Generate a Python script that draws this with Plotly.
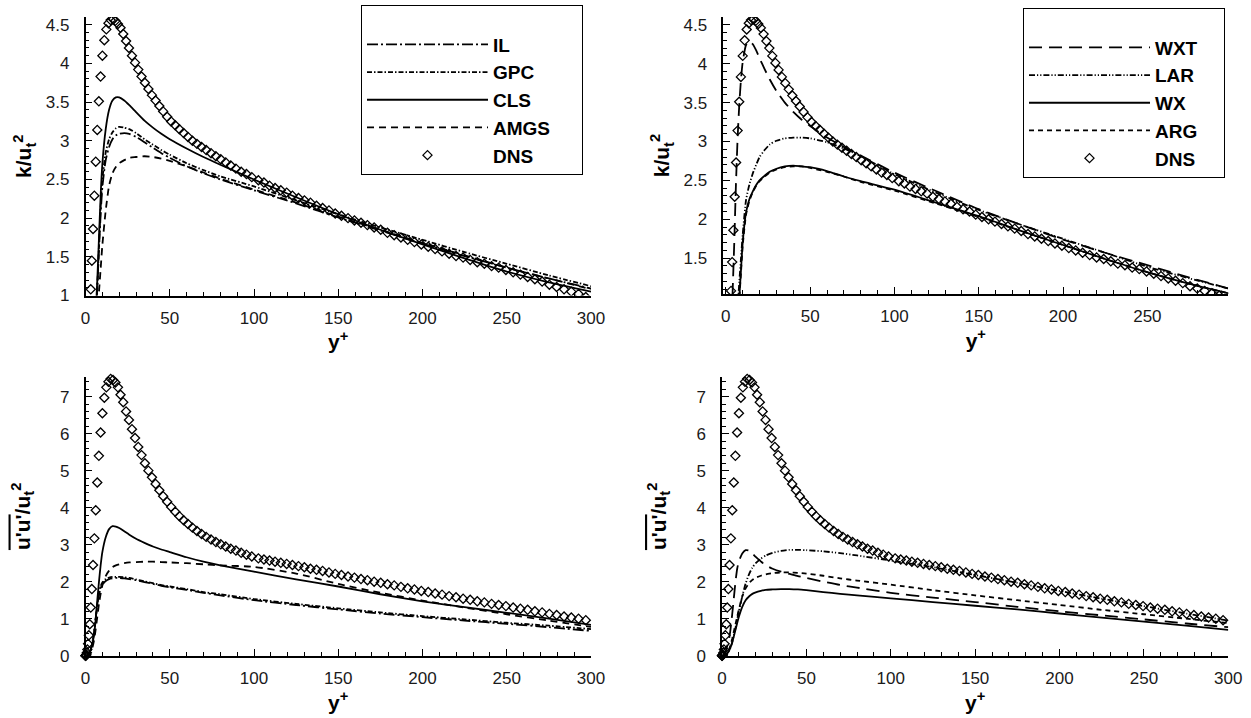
import plotly.graph_objects as go

# ---------------- data ----------------
X_MOD = [0, 1, 2, 3, 4, 5, 6, 7, 8, 9, 10, 12, 14, 16, 18, 20, 23, 26, 30, 35, 40, 45, 50,
         60, 70, 80, 100, 125, 150, 175, 200, 225, 250, 275, 300]

# top-left (k)
K_IL = [0, 0.01, 0.05, 0.12, 0.25, 0.45, 0.75, 1.1, 1.6, 2.05, 2.4, 2.75, 2.92, 3.02, 3.07, 3.09,
        3.10, 3.09, 3.05, 2.98, 2.91, 2.84, 2.78, 2.67, 2.58, 2.50, 2.36, 2.19, 2.01, 1.84, 1.67,
        1.51, 1.36, 1.22, 1.09]
K_GPC = [0, 0.01, 0.05, 0.12, 0.25, 0.45, 0.75, 1.1, 1.65, 2.15, 2.5, 2.85, 3.02, 3.11, 3.16, 3.18,
         3.17, 3.15, 3.10, 3.02, 2.95, 2.88, 2.82, 2.71, 2.62, 2.54, 2.41, 2.23, 2.05, 1.88, 1.72,
         1.56, 1.41, 1.26, 1.12]
K_CLS = [0, 0.01, 0.05, 0.12, 0.25, 0.45, 0.75, 1.2, 1.75, 2.3, 2.7, 3.15, 3.4, 3.52, 3.56, 3.56,
         3.52, 3.46, 3.37, 3.26, 3.17, 3.09, 3.02, 2.90, 2.79, 2.69, 2.50, 2.27, 2.05, 1.85, 1.66,
         1.48, 1.31, 1.17, 1.05]
K_AMGS = [0, 0.01, 0.04, 0.1, 0.2, 0.35, 0.55, 0.8, 1.05, 1.35, 1.65, 2.1, 2.42, 2.58, 2.66, 2.71,
          2.75, 2.78, 2.79, 2.80, 2.79, 2.77, 2.74, 2.67, 2.59, 2.51, 2.37, 2.20, 2.02, 1.85, 1.68,
          1.52, 1.36, 1.22, 1.08]

# top-right (k)
K_WXT = [0, 0.02, 0.12, 0.5, 1.05, 1.7, 2.45, 3.05, 3.48, 3.8, 4.02, 4.24, 4.29, 4.25, 4.17, 4.07,
         3.93, 3.80, 3.65, 3.50, 3.38, 3.28, 3.20, 3.05, 2.93, 2.82, 2.60, 2.36, 2.13, 1.93, 1.74,
         1.57, 1.41, 1.25, 1.10]
K_LAR = [0, 0.01, 0.04, 0.1, 0.18, 0.28, 0.5, 0.85, 1.2, 1.5, 1.8, 2.25, 2.45, 2.59, 2.70, 2.80,
         2.89, 2.96, 3.01, 3.04, 3.05, 3.05, 3.04, 2.99, 2.91, 2.81, 2.58, 2.34, 2.12, 1.93, 1.75,
         1.57, 1.39, 1.24, 1.10]
K_WX = [0, 0.01, 0.04, 0.1, 0.18, 0.28, 0.4, 0.7, 1.0, 1.35, 1.7, 2.09, 2.26, 2.36, 2.44, 2.50,
        2.56, 2.61, 2.65, 2.68, 2.69, 2.68, 2.67, 2.62, 2.55, 2.49, 2.38, 2.21, 2.04, 1.85, 1.67,
        1.49, 1.32, 1.17, 1.04]
K_ARG = [0, 0.01, 0.04, 0.1, 0.18, 0.28, 0.4, 0.68, 0.98, 1.32, 1.66, 2.06, 2.24, 2.35, 2.43, 2.49,
         2.55, 2.60, 2.64, 2.67, 2.68, 2.68, 2.66, 2.61, 2.55, 2.48, 2.37, 2.20, 2.03, 1.85, 1.67,
         1.49, 1.32, 1.17, 1.04]

# bottom-left (u'u')
UU_IL = [0, 0.01, 0.05, 0.15, 0.35, 0.6, 1.0, 1.35, 1.65, 1.82, 1.92, 2.02, 2.07, 2.09, 2.10, 2.10,
         2.09, 2.07, 2.04, 1.99, 1.94, 1.89, 1.85, 1.78, 1.70, 1.63, 1.50, 1.37, 1.25, 1.14, 1.04,
         0.95, 0.86, 0.77, 0.67]
UU_GPC = [0, 0.01, 0.05, 0.15, 0.35, 0.6, 1.0, 1.38, 1.7, 1.88, 1.98, 2.07, 2.11, 2.13, 2.13, 2.13,
          2.12, 2.10, 2.06, 2.01, 1.96, 1.91, 1.87, 1.80, 1.72, 1.66, 1.53, 1.40, 1.28, 1.17, 1.07,
          0.98, 0.89, 0.81, 0.72]
UU_CLS = [0, 0.01, 0.05, 0.15, 0.3, 0.55, 0.95, 1.5, 2.0, 2.45, 2.8, 3.2, 3.42, 3.5, 3.49, 3.45,
          3.36, 3.27, 3.16, 3.05, 2.95, 2.87, 2.80, 2.66, 2.54, 2.44, 2.27, 2.06, 1.87, 1.66, 1.47,
          1.31, 1.16, 1.00, 0.83]
UU_AMGS = [0, 0.01, 0.03, 0.08, 0.2, 0.4, 0.7, 1.05, 1.4, 1.68, 1.9, 2.15, 2.3, 2.39, 2.44, 2.47,
           2.50, 2.52, 2.53, 2.54, 2.54, 2.53, 2.52, 2.50, 2.47, 2.44, 2.40, 2.22, 1.94, 1.70, 1.49,
           1.30, 1.12, 0.95, 0.78]

# bottom-right (u'u')
UU_WXT = [0, 0.02, 0.1, 0.25, 0.4, 0.7, 1.1, 1.55, 2.0, 2.35, 2.55, 2.76, 2.85, 2.84, 2.76, 2.67,
          2.55, 2.44, 2.35, 2.27, 2.21, 2.15, 2.10, 2.00, 1.91, 1.84, 1.70, 1.57, 1.45, 1.32, 1.20,
          1.09, 0.98, 0.87, 0.77]
UU_LAR = [0, 0.005, 0.02, 0.06, 0.12, 0.22, 0.35, 0.55, 0.75, 0.98, 1.2, 1.6, 1.95, 2.2, 2.38, 2.5,
          2.62, 2.71, 2.78, 2.83, 2.86, 2.86, 2.85, 2.82, 2.77, 2.71, 2.57, 2.39, 2.18, 1.97, 1.75,
          1.54, 1.34, 1.14, 0.95]
UU_WX = [0, 0.005, 0.02, 0.06, 0.12, 0.22, 0.35, 0.52, 0.7, 0.88, 1.05, 1.32, 1.5, 1.6, 1.67, 1.71,
         1.75, 1.78, 1.79, 1.80, 1.80, 1.79, 1.77, 1.72, 1.67, 1.63, 1.55, 1.45, 1.35, 1.25, 1.14,
         1.03, 0.92, 0.81, 0.70]
UU_ARG = [0, 0.005, 0.03, 0.08, 0.15, 0.28, 0.45, 0.65, 0.85, 1.05, 1.25, 1.6, 1.82, 1.96, 2.05, 2.11,
          2.16, 2.20, 2.23, 2.25, 2.25, 2.24, 2.22, 2.16, 2.09, 2.03, 1.92, 1.77, 1.63, 1.50, 1.37,
          1.24, 1.12, 1.00, 0.88]

# DNS data
DNS_Y = [0, 0.03, 0.12, 0.28, 0.50, 0.78, 1.12, 1.52, 1.99, 2.52, 3.11, 3.76, 4.47, 5.25, 6.08,
         6.98, 7.93, 8.95, 10.03, 11.17, 12.37, 13.62, 14.94, 16.32, 17.75, 19.25, 20.79, 22.40,
         24.07, 25.80, 27.57, 29.40, 31.31, 33.25, 35.25, 37.33, 39.44, 41.59, 43.82, 46.10, 48.45,
         50.82, 53.25, 55.72, 58.24, 60.83, 63.47, 66.14, 68.87, 71.64, 74.49, 77.37, 80.28, 83.22,
         86.22, 89.28, 92.40, 95.52, 98.69, 102.6, 105.9, 109.2, 112.5, 115.9, 119.4, 122.8, 126.4,
         129.9, 133.5, 137.1, 140.7, 144.5, 148.2, 151.9, 155.8, 159.6, 163.5, 167.3, 171.3, 175.2,
         179.2, 183.2, 187.2, 191.2, 195.2, 199.3, 203.4, 207.5, 211.6, 215.8, 219.9, 224.1, 228.3,
         232.5, 236.7, 241.0, 245.2, 249.5, 253.8, 258.1, 262.4, 266.7, 271.0, 275.3, 279.6, 284.0,
         288.3, 292.6, 296.9]
DNS_K = [0, 0.0, 0.005, 0.02, 0.05, 0.11, 0.2, 0.33, 0.5, 0.75, 1.08, 1.45, 1.86, 2.29, 2.73,
         3.14, 3.51, 3.83, 4.10, 4.30, 4.44, 4.52, 4.56, 4.57, 4.55, 4.51, 4.46, 4.38,
         4.29, 4.20, 4.10, 4.01, 3.92, 3.83, 3.75, 3.67, 3.59, 3.52, 3.45, 3.38, 3.31,
         3.25, 3.20, 3.15, 3.10, 3.05, 3.00, 2.96, 2.92, 2.88, 2.84, 2.80, 2.76, 2.72,
         2.68, 2.64, 2.60, 2.57, 2.53, 2.49, 2.46, 2.42, 2.39, 2.36, 2.33, 2.29, 2.26,
         2.23, 2.20, 2.16, 2.13, 2.10, 2.06, 2.03, 2.00, 1.97, 1.94, 1.91, 1.88, 1.85,
         1.81, 1.78, 1.75, 1.72, 1.69, 1.66, 1.63, 1.60, 1.57, 1.54, 1.51, 1.49, 1.46,
         1.43, 1.41, 1.38, 1.36, 1.33, 1.30, 1.27, 1.24, 1.21, 1.18, 1.14, 1.11, 1.08,
         1.05, 1.02, 0.98]
DNS_UU = [0, 0.0, 0.002, 0.01, 0.03, 0.08, 0.17, 0.32, 0.55, 0.85, 1.3, 1.8, 2.45, 3.17, 3.93,
          4.68, 5.4, 6.03, 6.55, 6.97, 7.25, 7.4, 7.48, 7.45, 7.38, 7.25, 7.05, 6.85,
          6.6, 6.37, 6.12, 5.88, 5.64, 5.42, 5.2, 5.0, 4.82, 4.64, 4.47, 4.31, 4.16,
          4.02, 3.89, 3.77, 3.66, 3.56, 3.46, 3.37, 3.29, 3.21, 3.14, 3.07, 3.01, 2.95,
          2.89, 2.84, 2.78, 2.73, 2.68, 2.63, 2.60, 2.57, 2.54, 2.51, 2.48, 2.45, 2.42,
          2.39, 2.35, 2.32, 2.29, 2.25, 2.21, 2.18, 2.14, 2.11, 2.07, 2.04, 2.00, 1.97,
          1.93, 1.90, 1.86, 1.82, 1.79, 1.75, 1.72, 1.68, 1.65, 1.61, 1.58, 1.54, 1.51,
          1.47, 1.44, 1.40, 1.37, 1.34, 1.30, 1.27, 1.24, 1.20, 1.17, 1.13, 1.10, 1.06,
          1.03, 1.00, 0.96]

LEFT_NAMES = ["IL", "GPC", "CLS", "AMGS", "DNS"]
RIGHT_NAMES = ["WXT", "LAR", "WX", "ARG", "DNS"]

FONT = "Liberation Sans, Arial, Helvetica, sans-serif"

# ---------------- figure ----------------
fig = go.Figure()

DASH = {
    "IL": "11px,3px,2px,3px",
    "GPC": "5px,2px,1.5px,2px",
    "CLS": "solid",
    "AMGS": "7px,5px",
    "WXT": "13px,7px",
    "LAR": "6px,2px,1.2px,2px,1.2px,2px",
    "WX": "solid",
    "ARG": "5px,4px",
}


def add_line(x, y, name, xa, ya, legend=None, pad=""):
    fig.add_trace(go.Scatter(
        x=x, y=y, name=name + pad, mode="lines", xaxis=xa, yaxis=ya,
        line=dict(color="black", width=1.8, dash=DASH[name], shape="spline", smoothing=0.6),
        showlegend=legend is not None, legend=legend if legend else "legend",
    ))


def add_dns(y, xa, ya, legend=None, pad="", clip=True):
    fig.add_trace(go.Scatter(
        x=DNS_Y, y=y, name="DNS" + pad, mode="markers", xaxis=xa, yaxis=ya,
        cliponaxis=clip,
        marker=dict(symbol="diamond-open", size=7, color="black", line=dict(width=1.3, color="black")),
        showlegend=legend is not None, legend=legend if legend else "legend",
    ))


PAD_L = "\u00a0" * 5
PAD_R = "\u00a0" * 4

# top-left
for nm, yy in zip(LEFT_NAMES[:4], [K_IL, K_GPC, K_CLS, K_AMGS]):
    add_line(X_MOD, yy, nm, "x", "y", "legend", PAD_L)
add_dns(DNS_K, "x", "y", "legend", PAD_L)
# top-right
for nm, yy in zip(RIGHT_NAMES[:4], [K_WXT, K_LAR, K_WX, K_ARG]):
    add_line(X_MOD, yy, nm, "x2", "y2", "legend2", PAD_R)
add_dns(DNS_K, "x2", "y2", "legend2", PAD_R)
# bottom-left
for nm, yy in zip(LEFT_NAMES[:4], [UU_IL, UU_GPC, UU_CLS, UU_AMGS]):
    add_line(X_MOD, yy, nm, "x3", "y3")
add_dns(DNS_UU, "x3", "y3", clip=False)
# bottom-right
for nm, yy in zip(RIGHT_NAMES[:4], [UU_WXT, UU_LAR, UU_WX, UU_ARG]):
    add_line(X_MOD, yy, nm, "x4", "y4")
add_dns(DNS_UU, "x4", "y4", clip=False)

W, H = 1251, 718


def px_x(a, b):
    return [a / W, b / W]


def px_y(top, bottom):
    return [1 - bottom / H, 1 - top / H]


TICKFONT = dict(family=FONT, size=17, color="#1a1a1a")
TITLEFONT = dict(family=FONT, size=21, color="black")


def xaxis(domain, rng, anchor):
    return dict(
        domain=domain, range=rng, anchor=anchor, showline=True, linecolor="black", linewidth=1.5,
        ticks="inside", ticklen=7, tickwidth=1.2, tickcolor="black", dtick=50, tick0=0,
        showgrid=False, zeroline=False, ticklabelstandoff=6, tickfont=TICKFONT,
        minor=dict(dtick=10, tick0=0, ticks="inside", ticklen=4, tickwidth=1, tickcolor="black", showgrid=False),
        title=dict(text="<b>y<sup>+</sup></b>", font=TITLEFONT, standoff=2),
    )


def yaxis(domain, rng, anchor, dtick, mdtick, title, standoff):
    return dict(
        domain=domain, range=rng, anchor=anchor, showline=True, linecolor="black", linewidth=1.5,
        ticks="inside", ticklen=7, tickwidth=1.2, tickcolor="black", dtick=dtick, tick0=0,
        showgrid=False, zeroline=False, ticklabelstandoff=11, tickfont=TICKFONT,
        minor=dict(dtick=mdtick, tick0=0, ticks="inside", ticklen=4, tickwidth=1, tickcolor="black", showgrid=False),
        title=dict(text=title, font=TITLEFONT, standoff=standoff),
    )


K_TITLE = "<b>k/u<sub>t</sub><sup>2</sup></b>"
UU_TITLE = "<b><span style=\"text-decoration:overline\">u'u'</span>/u<sub>t</sub><sup>2</sup></b>"

legend_common = dict(
    xanchor="left", yanchor="top", bordercolor="black", borderwidth=1, bgcolor="white",
    font=dict(family=FONT, size=19, color="black", weight="bold"),
    itemwidth=121, tracegroupgap=0,
    title=dict(text="\u00a0", font=dict(family=FONT, size=15)),
)

fig.update_layout(
    width=W, height=H, margin=dict(l=0, r=0, t=0, b=0, autoexpand=False),
    paper_bgcolor="white", plot_bgcolor="white",
    font=dict(family=FONT, color="black"),
    xaxis=xaxis(px_x(85.5, 591), [0, 300], "y"),
    yaxis=yaxis(px_y(17, 295.5), [1, 4.6], "x", 0.5, 0.1, K_TITLE, 8),
    xaxis2=xaxis(px_x(723.3, 1228.3), [-1.5, 298], "y2"),
    yaxis2=yaxis(px_y(17, 294), [1.04, 4.6], "x2", 0.5, 0.1, K_TITLE, 8),
    xaxis3=xaxis(px_x(85.5, 591), [0, 300], "y3"),
    yaxis3=yaxis(px_y(377, 655.7), [0, 7.53], "x3", 1, 0.2, UU_TITLE, 24),
    xaxis4=xaxis(px_x(722, 1228.3), [0, 300], "y4"),
    yaxis4=yaxis(px_y(377, 655.7), [0, 7.53], "x4", 1, 0.2, UU_TITLE, 24),
    legend=dict(x=361 / W, y=1 - 5 / H, **legend_common),
    legend2=dict(x=1023 / W, y=1 - 8 / H, **legend_common),
)

fig.write_html("out.html", include_plotlyjs=True, full_html=True,
               config={"displayModeBar": False},
               post_script="document.body.style.margin='0';")
